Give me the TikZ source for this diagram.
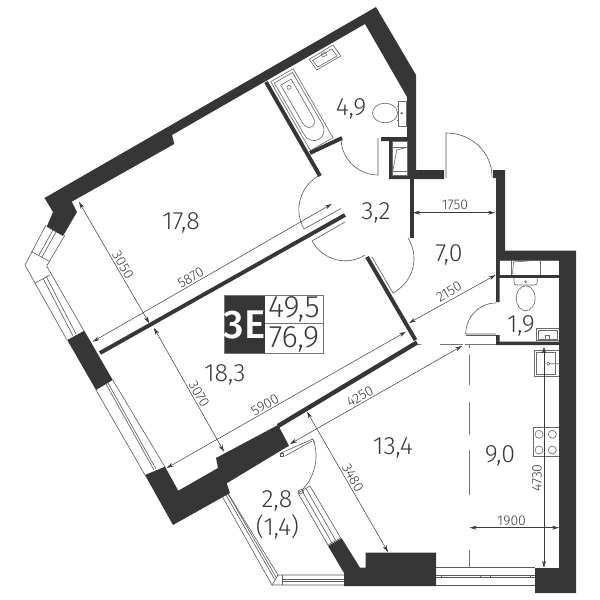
\documentclass[tikz,border=0pt]{standalone}
\usepackage{fontspec}
\setmainfont{Fira Sans}[UprightFont=* Light,BoldFont=* Medium]
\usetikzlibrary{arrows.meta}
\definecolor{wallc}{HTML}{363636}
\definecolor{inkc}{HTML}{3A3A3A}
\tikzset{
  wall/.style={fill=wallc,draw=none},
  thinwall/.style={draw=wallc,line width=3.9pt,line cap=butt},
  fine/.style={draw=inkc!85,line width=0.6pt},
  fix/.style={draw=inkc!75,line width=0.65pt},
  dim/.style={draw=inkc,line width=0.5pt,{Stealth[length=7pt,width=4pt]}-{Stealth[length=7pt,width=4pt]}},
  dimtext/.style={font=\fontsize{14}{15}\selectfont,text=inkc,inner sep=0pt},
  area/.style={font=\fontsize{25}{26}\selectfont,text=inkc,inner sep=0pt},
  legtext/.style={font=\fontsize{31}{32}\selectfont,text=inkc,inner sep=0pt},
  dashl/.style={draw=inkc!70,line width=0.7pt}
}
\begin{document}
\begin{tikzpicture}[x=1pt,y=-1pt]
\useasboundingbox (0,0) rectangle (600,600);
% left windows
\draw[fine] (46,225) -- (25,265) -- (35,283) -- (67,340);
\draw[fine] (65,235) -- (46.7,266) -- (84,331);
\draw[fine] (31.7,251.7) -- (50,261.7);
\draw[fine] (35,283) -- (50,275);
\draw[fine] (53,230) -- (39,255);
\draw[fine] (56,232) -- (42,257);
\draw[fine] (43,278) -- (73,336);
\draw[fine] (46,276) -- (76,334);
\draw[fine] (96,390) -- (145,475);
\draw[fine] (112.7,380) -- (165,467);
\draw[fine] (106,384) -- (154,470);
\draw[fine] (108,383) -- (156,469);
% balcony windows
\draw[fine] (222.7,497.3) -- (272,585) -- (350,585);
\draw[fine] (227,491.7) -- (278,575) -- (350,575);
\draw[fine] (225.5,494) -- (274.5,579);
\draw[fine] (227.5,493) -- (276.5,578);
\draw[fine] (278,575) -- (272,585);
\draw[fine] (282.7,575) -- (282.7,585);
\draw[fine] (282.7,579.5) -- (350,579.5);
\draw[fine] (282.7,581) -- (350,581);
\draw[fine] (298,493) -- (328,545);
\draw[fine] (310,486) -- (340.7,538);
\draw[fine] (302,491) -- (332,543);
\draw[fine] (306,488.5) -- (336,541);
\draw[fine] (298,493) -- (310,486);
\draw[fine] (328,545) -- (340.7,538);
% bottom right window
\draw[fine] (436,567.7) -- (535,567.7);
\draw[fine] (436,575.7) -- (535,575.7);
\draw[fine] (436,577.2) -- (535,577.2);
\draw[fine] (436,585.7) -- (535,585.7);
\foreach \tx in {441,480,490,530}{\draw[fine] (\tx,575) -- (\tx,578);}
% bathtub
\begin{scope}[shift={(270.7,81.7)},rotate=-60]
  \draw[fix] (0,0) rectangle (79.6,-26);
  \draw[fix] (3,-2.5) -- (62,-2.5) .. controls (78,-2.5) and (78,-23.5) .. (62,-23.5) -- (3,-23.5) -- cycle;
  \draw[fix] (8,-7) -- (52,-7) .. controls (62,-7) and (62,-19) .. (52,-19) -- (8,-19) -- cycle;
  \draw[fix] (14,-13) circle[radius=2];
\end{scope}
% bath sink
\draw[fix] (309.3,59.3) -- (333,45) -- (340.7,56) -- (316.7,70) -- cycle;
\draw[fix] (312.5,60.5) -- (331.8,49) -- (337,56) -- (317.8,67) -- cycle;
\draw[fix] (321,54) -- (325,52) -- (327,55) -- (323,57) -- cycle;
% toilet 4.9
\draw[fix] (398.3,101.7) rectangle (406.7,126);
\draw[fix] (385,113) ellipse[x radius=12.5,y radius=9.8];
\draw[fix] (397,106) -- (398.3,106) (397,120) -- (398.3,120);
\draw[fix] (401.7,113.3) circle[radius=0.8];
% 1.9 bath
\draw[fix] (499,260) rectangle (559,275);
\draw[fix] (511.7,260) -- (511.7,275) (540.7,260) -- (540.7,275);
\draw[fix] (512.5,274) -- (513.5,262) -- (540,260);
\draw[fix] (514,277.3) -- (514,282) .. controls (514,284) and (515,285) .. (517,285) -- (534.3,285) .. controls (536.3,285) and (537.3,284) .. (537.3,282) -- (537.3,277.3);
\draw[fix] (525.7,281.7) circle[radius=1];
\draw[fix] (525.7,298.3) ellipse[x radius=9.5,y radius=12.5];
\draw[fix] (536,328.3) rectangle (559,340.7);
\draw[fix] (538,330) rectangle (557,339);
\draw[fix] (545.7,335) rectangle (549,340.7);
% kitchen
\draw[fix] (534,350.7) rectangle (559,376);
\draw[fix] (536,352.7) rectangle (555,374);
\draw[fix] (548.3,363.7) circle[radius=1.6] (550,363.7) -- (559,363.7);
\draw[fix] (533.3,427.3) rectangle (559,456.7);
\foreach \cx/\cy in {539/434.3,552.3/434.3,539/450,552.3/450}{\draw[fix] (\cx,\cy) circle[radius=4];}
% doors
\draw[fine] (341,208.5) -- (304,229) .. controls (293,209.7) and (300.1,185.5) .. (320,175);
\draw[fine] (345,222) -- (312,241) .. controls (323,260.3) and (346.8,266.6) .. (365,255);
\draw[fine] (372,257) -- (393,293) .. controls (413.4,282) and (420.1,257.3) .. (408,238);
\draw[fine] (378,138) -- (378,175) .. controls (357.6,175) and (341,158.4) .. (341,138);
\draw[fine] (446,178) -- (446,133) .. controls (471.4,133) and (492,152) .. (492,177);
\draw[fine] (496,303) .. controls (479.3,303) and (465.7,316.9) .. (465.7,334) -- (496,334);
\draw[fine] (465.7,335) -- (496,335);
\draw[fine] (312.7,439) .. controls (320,455) and (315,478) .. (301.7,490);
\draw[fine] (281,453) -- (312.7,439) -- (315,443);
\draw[fine] (285,456) -- (312,441);
\draw[fine] (298,491) -- (302,489) -- (304,492) -- (300,494) -- cycle;
\draw[fine] (280,453) rectangle (283,456);
% dash-dot lines
\foreach \ya/\yb in {344/348,355/385,402/435,450/495,550/568}{\draw[dashl] (469,\ya) -- (469,\yb);}
\draw[dashl] (418,344.5) -- (421,344.5);
\draw[dashl] (440,344.5) -- (463,344.5);
\draw[dashl] (465,344.5) -- (496,344.5);
% walls
\fill[wall] (44.5,198) -- (376,7) -- (416,75) -- (416,170) -- (444,170) -- (444,179) -- (389,179) -- (389,141) -- (381,141) -- (381,137) -- (407,137) -- (407,97) -- (365,24) -- (172,135) -- (174.3,144) -- (71.7,201.7) -- (77,212) -- (63,236) -- (46.7,226.7) -- (53,212) -- cycle;
\fill[white] (392,141) rectangle (407,175);
\draw[fix] (392,141) rectangle (407,175);
\draw[fix] (392,147.3) -- (407,147.3) (392,171.7) -- (407,171.7);
\draw[fix] (392.7,171.7) -- (396.7,150) -- (407,147.3);
\fill[wall] (493,170) -- (505,170) -- (505,250.5) -- (576,250.5) -- (576,593) -- (535,593) -- (535,568) -- (559,568) -- (559,260) -- (499.5,260) -- (499.5,302) -- (496,302) -- (496,178) -- (493,178) -- cycle;
\fill[wall] (499,274.5) rectangle (559,277.5);
\fill[wall] (496,335) -- (499.5,335) -- (499.5,341.7) -- (559,341.7) -- (559,345) -- (496,345) -- cycle;
\fill[wall] (410,179) rectangle (413.5,238);
\fill[wall] (328,546) -- (341.7,538.3) -- (360,567.7) -- (365.7,567.7) -- (365.7,552.7) -- (436,552.7) -- (436,586) -- (344,586) -- (344,573) -- cycle;
\fill[wall] (145,475) -- (165,466.7) -- (178.3,490.7) -- (218,468) -- (216,458) -- (278,425) -- (289,445.7) -- (226.7,483.3) -- (230,493) -- (173,525) -- cycle;
\fill[wall] (67.3,340) -- (84.3,330.7) -- (112.7,380) -- (96,390) -- cycle;
\draw[thinwall] (266,82) -- (320,176);
\draw[thinwall] (310,153) -- (342,138);
\draw[thinwall] (100,353) -- (345,215);
\draw[thinwall] (367,257) -- (415.5,340);
\draw[thinwall,line width=4.4pt] (417,342.5) -- (278,426);
% dimensions
\draw[dim] (79,202) -- (149.3,323.3);
\draw[dim] (92.7,341.7) -- (331.7,204);
\draw[dim] (154,328) -- (224,451.7);
\draw[dim] (166.7,468) -- (406,331.7);
\draw[dim] (290,444) -- (462,346);
\draw[dim] (307,411.7) -- (388,552);
\draw[dim] (409,323) -- (495.7,275);
\draw[dim] (413,212.7) -- (495,212.7);
\draw[dim] (469.7,527.7) -- (559,527.7);
\draw[dim] (544,346.7) -- (544,567.7);
\node[dimtext,rotate=-60] (d1) at (123,265) {3050};
\node[dimtext,rotate=30] (d2) at (190.7,278) {5870};
\node[dimtext,rotate=-60] (d3) at (199,394) {3070};
\node[dimtext,rotate=30] (d4) at (265,405) {5900};
\node[dimtext,rotate=30] (d5) at (360,396.7) {4250};
\node[dimtext,rotate=-60] (d6) at (353,478) {3480};
\node[dimtext,rotate=30] (d7) at (449,291.7) {2150};
\node[dimtext] (d8) at (455,205) {1750};
\node[dimtext] (d9) at (511.7,521) {1900};
\node[dimtext,rotate=90] (d10) at (537,478) {4730};
% area labels
\node[area] (a1) at (181,223) {17,8};
\node[area] (a2) at (376,213) {3,2};
\node[area] (a3) at (351,109) {4,9};
\node[area] (a4) at (449,255) {7,0};
\node[area] (a5) at (225,375) {18,3};
\node[area] (a6) at (521,326) {1,9};
\node[area] (a7) at (393,448) {13,4};
\node[area] (a8) at (500,456) {9,0};
\node[area] (a9) at (277,501) {2,8};
\node[area] (a10) at (277.5,527) {(1,4)};
% legend
\fill[wallc] (224,295.7) rectangle (265,353);
\draw[inkc!70,line width=0.6pt] (224,295.7) rectangle (323,353);
\draw[inkc!70,line width=0.6pt] (265,323.3) -- (323,323.3);
\node[font=\fontsize{40}{41}\selectfont\bfseries,text=white,inner sep=0pt] (l1) at (244.5,325) {3E};
\node[legtext] (l2) at (294,309.5) {49,5};
\node[legtext] (l3) at (294,339) {76,9};
\end{tikzpicture}
\end{document}
